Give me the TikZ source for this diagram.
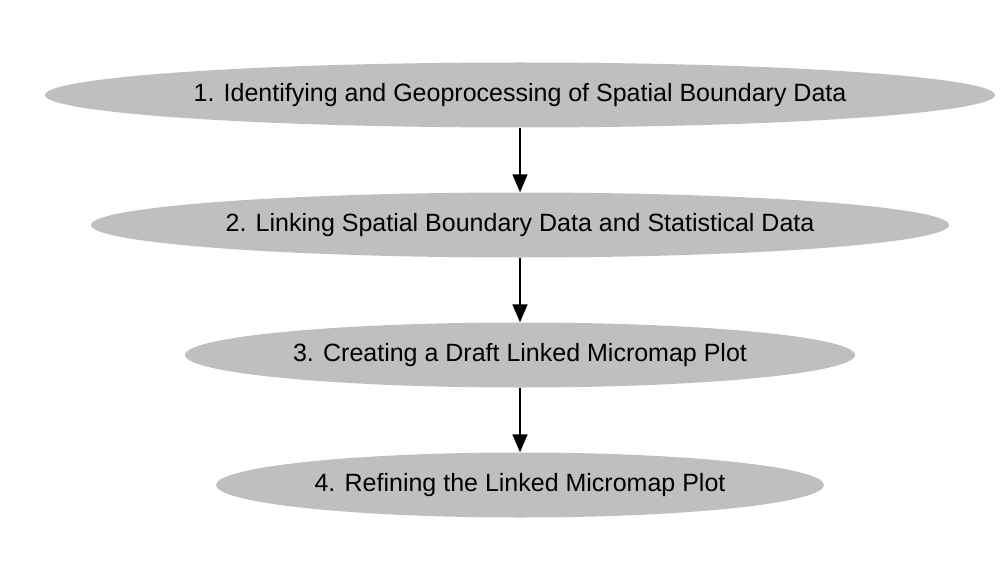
\documentclass[tikz,border=0pt]{standalone}
\usepackage{fontspec}
\setmainfont{Liberation Sans}
\usetikzlibrary{shapes.geometric,arrows.meta}
\begin{document}
\begin{tikzpicture}[x=1pt,y=-1pt,
  stage/.style={ellipse,fill=black!25,draw=none,inner sep=0pt,font=\fontsize{25}{28}\selectfont},
  flow/.style={-{Triangle[length=18pt,width=15pt]},line width=1.6pt}]
\useasboundingbox (0,0) rectangle (1000,580);
\node[stage,minimum width=950pt,minimum height=65pt] (s1) at (520,95) {\raisebox{-2pt}{1. Identifying and Geoprocessing of Spatial Boundary Data}};
\node[stage,minimum width=858pt,minimum height=65pt] (s2) at (520,225) {\raisebox{-2pt}{2. Linking Spatial Boundary Data and Statistical Data}};
\node[stage,minimum width=670pt,minimum height=65pt] (s3) at (520,355) {\raisebox{-2pt}{3. Creating a Draft Linked Micromap Plot}};
\node[stage,minimum width=608pt,minimum height=65pt] (s4) at (520,485) {\raisebox{-2pt}{4. Refining the Linked Micromap Plot}};
\draw[flow] (s1.south) -- (s2.north);
\draw[flow] (s2.south) -- (s3.north);
\draw[flow] (s3.south) -- (s4.north);
\end{tikzpicture}
\end{document}
